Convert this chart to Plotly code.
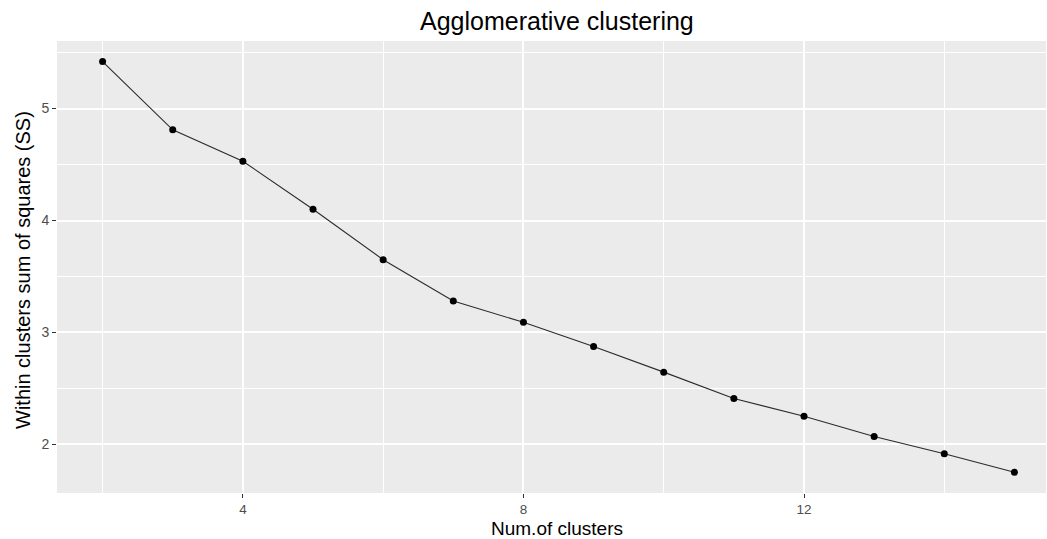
import plotly.graph_objects as go

num_clusters = [2, 3, 4, 5, 6, 7, 8, 9, 10, 11, 12, 13, 14, 15]
within_ss = [5.42, 4.81, 4.53, 4.10, 3.65, 3.28, 3.09, 2.875, 2.645, 2.41, 2.25, 2.07, 1.915, 1.75]

x_ticks = [4, 8, 12]
x_minor = [2, 6, 10, 14]
y_ticks = [2, 3, 4, 5]
y_minor = [2.5, 3.5, 4.5, 5.5]

fig = go.Figure()
fig.add_trace(go.Scatter(
    x=num_clusters, y=within_ss, mode="lines+markers",
    line=dict(color="#2b2b2b", width=1.1),
    marker=dict(color="black", size=7, symbol="circle"),
    showlegend=False,
))

font = "Liberation Sans, Arial, sans-serif"
W, H = 1047, 539
ml, mr, mt, mb = 57, 1, 41, 46
fig.update_layout(
    width=W, height=H,
    margin=dict(l=ml, r=mr, t=mt, b=mb, autoexpand=False),
    paper_bgcolor="white",
    plot_bgcolor="#EBEBEB",
    font=dict(family=font),
    xaxis=dict(
        range=[1.35, 15.45], tickvals=x_ticks, ticktext=[str(v) for v in x_ticks],
        showgrid=True, gridcolor="white", gridwidth=1.5, zeroline=False,
        ticks="outside", ticklen=4, tickcolor="#333333", tickwidth=1,
        tickfont=dict(size=13.5, color="#4D4D4D"),
        minor=dict(tickvals=x_minor, showgrid=True, gridcolor="white", gridwidth=1, ticklen=0),
        automargin=False, showline=False,
    ),
    yaxis=dict(
        range=[1.565, 5.604], tickvals=y_ticks, ticktext=[str(v) for v in y_ticks],
        showgrid=True, gridcolor="white", gridwidth=1.5, zeroline=False,
        ticks="outside", ticklen=4, tickcolor="#333333", tickwidth=1,
        tickfont=dict(size=14, color="#4D4D4D"),
        minor=dict(tickvals=y_minor, showgrid=True, gridcolor="white", gridwidth=1, ticklen=0),
        automargin=False, showline=False,
    ),
    annotations=[
        dict(text="Agglomerative clustering", xref="paper", yref="paper",
             x=(557 - ml) / (W - ml - mr), y=1, yshift=mt - 21,
             xanchor="center", yanchor="middle", showarrow=False,
             font=dict(size=25, color="black", family=font)),
        dict(text="Num.of clusters", xref="paper", yref="paper",
             x=(557 - ml) / (W - ml - mr), y=0, yshift=-(528 - (H - mb)),
             xanchor="center", yanchor="middle", showarrow=False, borderpad=0,
             font=dict(size=19, color="black", family=font)),
        dict(text="Within clusters sum of squares (SS)", xref="paper", yref="paper",
             x=0, xshift=-(ml - 23), y=(H - mb - 270) / (H - mt - mb),
             xanchor="center", yanchor="middle", textangle=-90, showarrow=False,
             font=dict(size=20, color="black", family=font)),
    ],
)

fig.write_html("out.html", config={"displayModeBar": False},
               post_script="document.body.style.margin='0';")
